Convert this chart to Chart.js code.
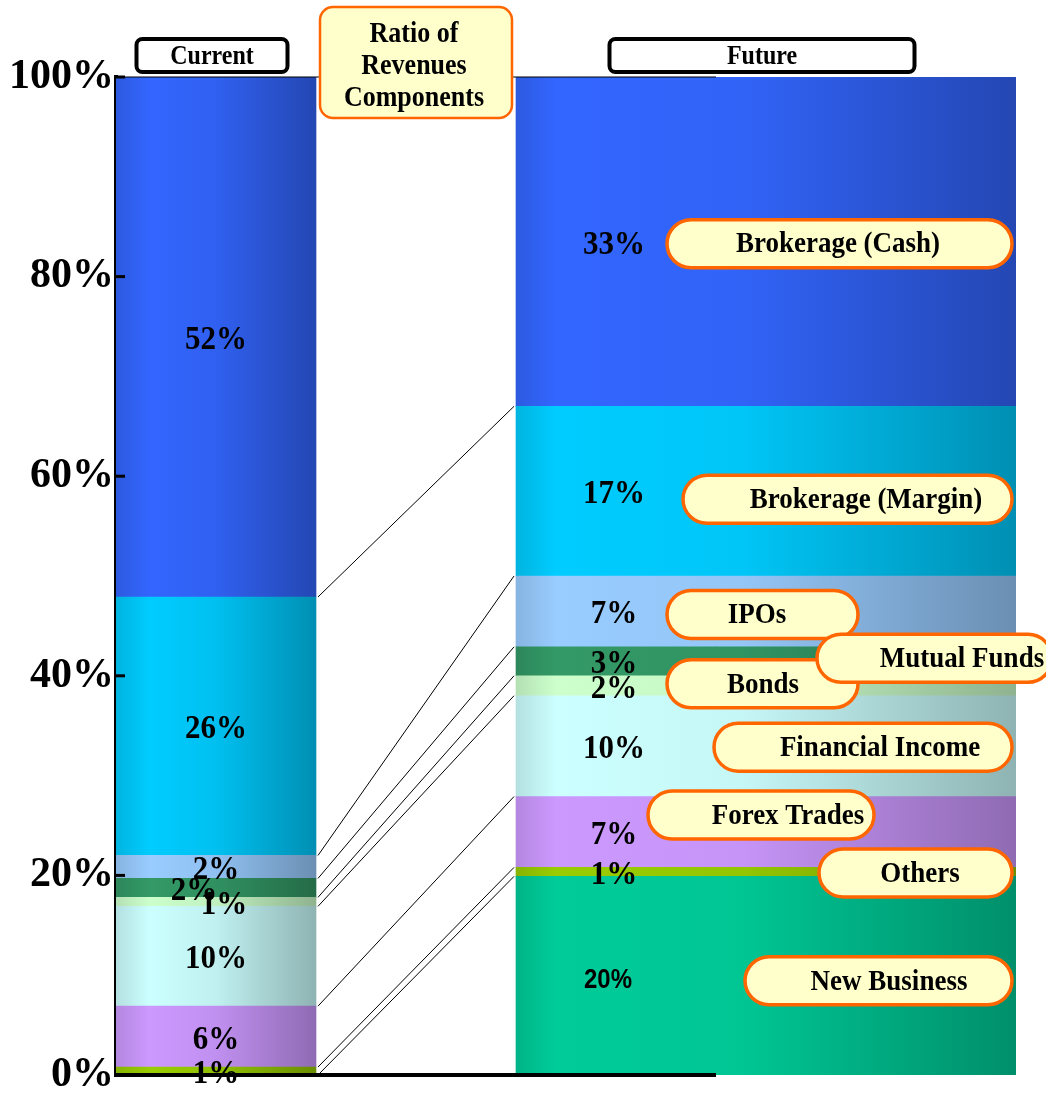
<!DOCTYPE html>
<html>
<head>
<meta charset="utf-8">
<script src="https://cdn.jsdelivr.net/npm/chart.js@4"></script>
<style>
  html, body { margin: 0; padding: 0; background: #fff; }
  #wrap { width: 1046px; height: 1095px; }
</style>
</head>
<body>
<div id="wrap"><canvas id="revenue" width="1046" height="1095"></canvas></div>
<script>
// revenue components, bottom of the stack first
const segments = ['New Business', 'Others', 'Forex Trades', 'Financial Income', 'Bonds',
                  'Mutual Funds', 'IPOs', 'Brokerage (Margin)', 'Brokerage (Cash)'];
const currentShare = [0, 0.8, 6.1, 10, 0.9, 1.9, 2.3, 25.9, 52.1];
const futureShare  = [19.9, 0.9, 7.1, 10.1, 2, 2.9, 7.1, 17, 33];
const columnNames  = ['Current', 'Future'];
const yTicks       = [0, 20, 40, 60, 80, 100];
const chartTitle   = ['Ratio of', 'Revenues', 'Components'];

const baseColors = ['#00CC99', '#99CC00', '#CC99FF', '#CCFFFF', '#CCFFCC',
                    '#339966', '#99CCFF', '#00CCFF', '#3366FF'];

// 9 equal slots across the plot: current bar = slots 0-1, future bar = slots 4-8
const slotOwner = [0, 0, null, null, 1, 1, 1, 1, 1];
const serif = "'Liberation Serif', 'Times New Roman', serif";
const stretch = 1.12; // the original lettering is a bit tall

function shade(hex, f) {
    let r = parseInt(hex.substr(1, 2), 16), g = parseInt(hex.substr(3, 2), 16), b = parseInt(hex.substr(5, 2), 16);
    return 'rgb(' + Math.round(r * f) + ',' + Math.round(g * f) + ',' + Math.round(b * f) + ')';
}

function columnSpan(chart, col) {
    const xs = chart.scales.x;
    const slots = slotOwner.map((c, i) => c === col ? i : -1).filter(i => i >= 0);
    const half = xs.width / slotOwner.length / 2;
    return [xs.getPixelForValue(slots[0]) - half, xs.getPixelForValue(slots[slots.length - 1]) + half];
}

const shadeStops = [
    [[0, 0.88], [0.17, 1], [0.5, 0.94], [1, 0.7]],
    [[0, 0.88], [0.08, 1], [0.45, 0.97], [1, 0.7]]
];

function barFill(ctx) {
    const chart = ctx.chart;
    const base = baseColors[ctx.datasetIndex];
    if (!chart.chartArea) return base;
    const col = slotOwner[ctx.dataIndex];
    if (col === null) return base;
    const span = columnSpan(chart, col);
    const g = chart.ctx.createLinearGradient(span[0], 0, span[1], 0);
    shadeStops[col].forEach(s => g.addColorStop(s[0], shade(base, s[1])));
    return g;
}

const datasets = segments.map((name, i) => ({
    label: name,
    data: slotOwner.map(c => c === null ? null : (c === 0 ? currentShare[i] : futureShare[i])),
    backgroundColor: barFill,
    borderWidth: 0,
    barPercentage: 1,
    categoryPercentage: 1
}));

function cumulative(arr) {
    let out = [0];
    arr.forEach(v => out.push(out[out.length - 1] + v));
    return out;
}

// callout layout (pixels): left, right, text centre, vertical nudge from segment middle
const callouts = [
    { seg: 0, left: 745, right: 1012, tx: 889, dy: 5 },
    { seg: 1, left: 819, right: 1012, tx: 920, dy: 1 },
    { seg: 2, left: 648, right: 874, tx: 788, dy: -17 },
    { seg: 3, left: 714, right: 1012, tx: 880, dy: 1 },
    { seg: 4, left: 667, right: 858, tx: 763, dy: -2 },
    { seg: 6, left: 667, right: 858, tx: 757, dy: 3 },
    { seg: 5, left: 817, right: 1052, tx: 962, dy: -3 },
    { seg: 7, left: 683, right: 1012, tx: 866, dy: 8 },
    { seg: 8, left: 667, right: 1012, tx: 838, dy: 2 }
];
const currentLabelNudge = { 5: -22, 4: 8 };

function roundRect(c, x, y, w, h, r) {
    c.beginPath();
    c.moveTo(x + r, y);
    c.arcTo(x + w, y, x + w, y + h, r);
    c.arcTo(x + w, y + h, x, y + h, r);
    c.arcTo(x, y + h, x, y, r);
    c.arcTo(x, y, x + w, y, r);
    c.closePath();
}

function tallText(c, text, x, y) {
    c.save();
    c.translate(x, y);
    c.scale(1, stretch);
    c.fillText(text, 0, 0);
    c.restore();
}

const decorations = {
    id: 'decorations',
    afterDatasetsDraw(chart) {
        const c = chart.ctx, ys = chart.scales.y, area = chart.chartArea;
        const cur = columnSpan(chart, 0), fut = columnSpan(chart, 1);
        const cumC = cumulative(currentShare), cumF = cumulative(futureShare);

        c.save();
        // connector lines between matching boundaries
        c.strokeStyle = '#000';
        c.lineWidth = 1;
        for (let k = 1; k < segments.length; k++) {
            c.beginPath();
            c.moveTo(cur[1] + 2, ys.getPixelForValue(cumC[k]));
            c.lineTo(fut[0] - 2, ys.getPixelForValue(cumF[k]));
            c.stroke();
        }
        // original plot frame: thin top line, thick baseline over slots 0-5
        const frameEnd = fut[0] + (fut[1] - fut[0]) * 2 / 5;
        c.beginPath();
        c.moveTo(area.left, ys.getPixelForValue(100));
        c.lineTo(frameEnd, ys.getPixelForValue(100));
        c.stroke();
        c.lineWidth = 4;
        c.beginPath();
        c.moveTo(area.left - 2, ys.getPixelForValue(0));
        c.lineTo(frameEnd, ys.getPixelForValue(0));
        c.stroke();
        c.lineWidth = 3;
        yTicks.forEach(t => {
            const y = ys.getPixelForValue(t);
            c.beginPath();
            c.moveTo(area.left, y);
            c.lineTo(area.left + 9, y);
            c.stroke();
        });

        // percentage labels
        c.fillStyle = '#000';
        c.textAlign = 'center';
        c.textBaseline = 'middle';
        const curX = (cur[0] + cur[1]) / 2;
        const futX = fut[0] + (fut[1] - fut[0]) / 5 - 2;
        segments.forEach((s, i) => {
            if (currentShare[i] > 0) {
                c.font = 'bold 31px ' + serif;
                const y = ys.getPixelForValue((cumC[i] + cumC[i + 1]) / 2);
                tallText(c, Math.round(currentShare[i]) + '%', curX + (currentLabelNudge[i] || 0), y + 3);
            }
            const yf = ys.getPixelForValue((cumF[i] + cumF[i + 1]) / 2);
            if (i === 0) {
                c.font = "bold 24px 'Liberation Sans', Arial, sans-serif";
                tallText(c, Math.round(futureShare[i]) + '%', futX - 6, yf + 5);
            } else {
                c.font = 'bold 31px ' + serif;
                tallText(c, Math.round(futureShare[i]) + '%', futX, yf + 3);
            }
        });

        // callouts
        callouts.forEach(co => {
            const yMid = ys.getPixelForValue((cumF[co.seg] + cumF[co.seg + 1]) / 2) + co.dy;
            roundRect(c, co.left, yMid - 24, co.right - co.left, 48, 24);
            c.fillStyle = '#FFFFCC';
            c.fill();
            c.lineWidth = 3.5;
            c.strokeStyle = '#FF6600';
            c.stroke();
            c.fillStyle = '#000';
            c.font = 'bold 27px ' + serif;
            tallText(c, segments[co.seg], co.tx, yMid + 1);
        });

        // column headers
        [cur, fut].forEach((span, i) => {
            const mid = (span[0] + span[1]) / 2;
            const w = i === 0 ? 151 : 305;
            roundRect(c, mid - w / 2 - 4, 39, w, 33, 6);
            c.fillStyle = '#fff';
            c.fill();
            c.lineWidth = 4;
            c.strokeStyle = '#000';
            c.stroke();
            c.fillStyle = '#000';
            c.font = 'bold 24px ' + serif;
            tallText(c, columnNames[i], mid - 4, 57);
        });

        // title box in the gap
        const gapMid = (cur[1] + fut[0]) / 2;
        roundRect(c, gapMid - 96, 7, 192, 111, 13);
        c.fillStyle = '#FFFFCC';
        c.fill();
        c.lineWidth = 2.5;
        c.strokeStyle = '#FF6600';
        c.stroke();
        c.fillStyle = '#000';
        c.font = 'bold 26px ' + serif;
        chartTitle.forEach((line, i) => tallText(c, line, gapMid - 2, 34 + i * 32));
        c.restore();
    }
};

new Chart(document.getElementById('revenue'), {
    type: 'bar',
    data: { labels: slotOwner.map(c => c === null ? '' : columnNames[c]), datasets: datasets },
    options: {
        responsive: false,
        animation: false,
        layout: { padding: { top: 77, bottom: 20, right: 30, left: 0 } },
        plugins: { legend: { display: false }, tooltip: { enabled: false } },
        scales: {
            x: { stacked: true, display: false },
            y: {
                stacked: true,
                min: 0,
                max: 100,
                afterFit: s => { s.width = 116; s.paddingTop = 0; s.paddingBottom = 0; },
                afterBuildTicks: s => { s.ticks = yTicks.map(v => ({ value: v })); },
                ticks: {
                    callback: v => v + '%',
                    color: '#000',
                    padding: 2,
                    font: { family: serif, size: 42, weight: 'bold', lineHeight: 1 }
                },
                grid: { display: false, drawTicks: false },
                border: { display: true, color: '#000', width: 4 }
            }
        }
    },
    plugins: [decorations]
});
</script>
</body>
</html>
